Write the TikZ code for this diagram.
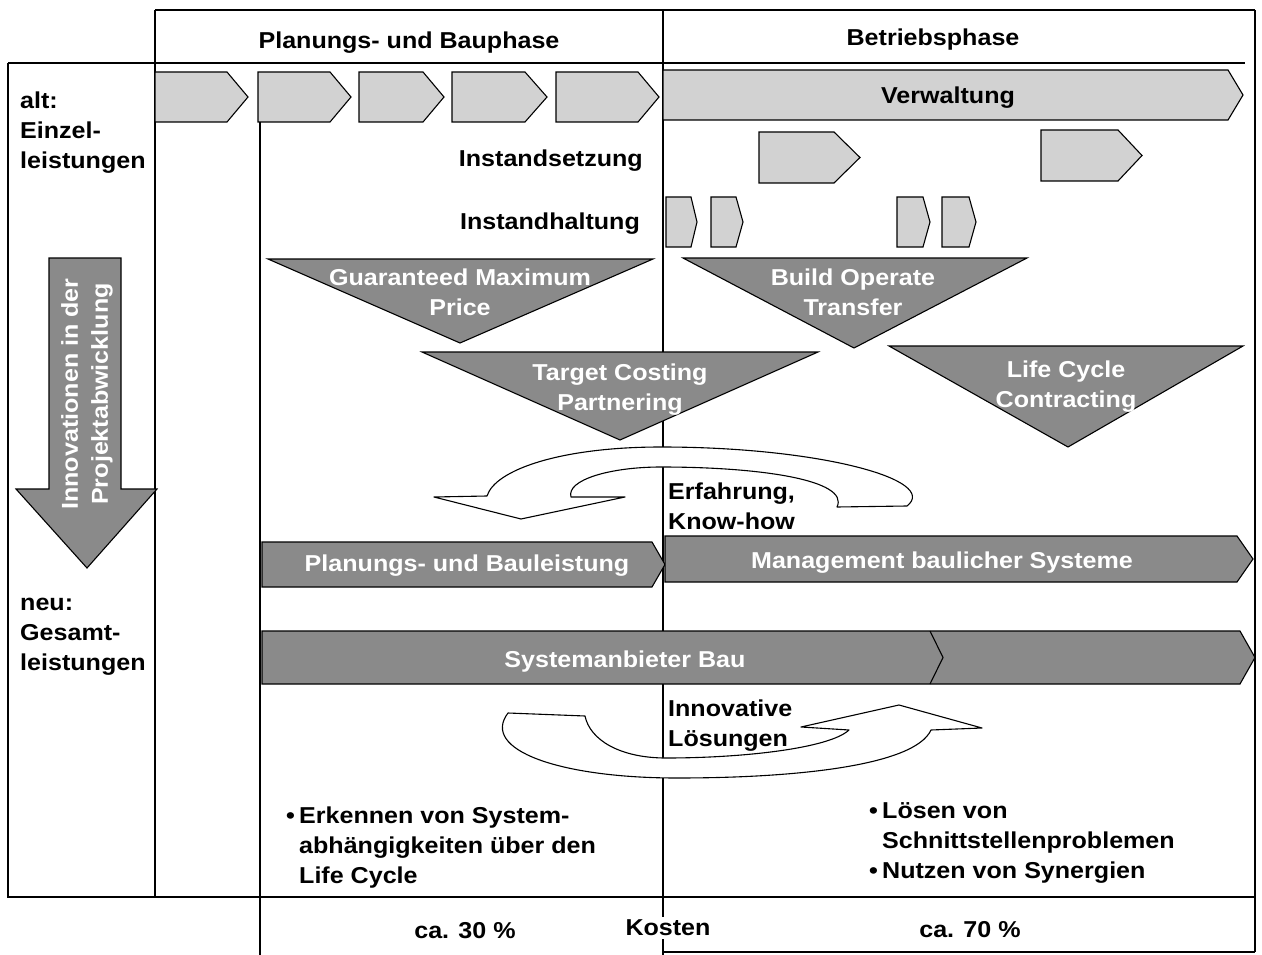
\documentclass[tikz,border=0pt]{standalone}
\usepackage{fontspec}
\setmainfont{Liberation Sans}[FakeStretch=1.09]
\definecolor{chevlight}{HTML}{D2D2D2}
\definecolor{shapedark}{HTML}{8A8A8A}
\newcommand\lblfont{\bfseries\fontsize{23}{30}\selectfont}
% chevron outline: style, left x, body end x, tip x, top y, bottom y
\newcommand\chevpath[6]{\draw[#1] (#2,#5) -- (#3,#5) -- (#4,{(#5+#6)/2}) -- (#3,#6) -- (#2,#6) -- cycle;}
\tikzset{
  frame/.style={line width=1.4pt},
  light/.style={fill=chevlight, draw=black, line width=1.1pt},
  dark/.style={fill=shapedark, draw=black, line width=1.1pt},
  loop/.style={fill=white, draw=black, line width=1.1pt, line join=round},
  lbl/.style={font=\lblfont, inner sep=0pt, yshift=-3pt},
  wlbl/.style={lbl, text=white, align=center},
}
\begin{document}
\begin{tikzpicture}[x=1pt,y=-1pt]
\useasboundingbox (0,0) rectangle (1262,955);

% frame and column lines
\draw[frame] (155,10) -- (1255,10);
\draw[frame] (1255,10) -- (1255,952);
\draw[frame] (8,63) -- (1245,63);
\draw[frame] (8,63) -- (8,897) -- (1255,897);
\draw[frame] (155,10) -- (155,897);
\draw[frame] (260,122) -- (260,955);
\draw[frame] (663,10) -- (663,955);
\draw[frame] (663,952) -- (1255,952);

% phase headers
\node[lbl] (plan) at (409,40) {Planungs- und Bauphase};
\node[lbl] (betr) at (933,37) {Betriebsphase};

% single services, first row
\chevpath{light}{155}{227}{248}{72}{122}
\chevpath{light}{258}{330}{351}{72}{122}
\chevpath{light}{359}{423}{444}{72}{122}
\chevpath{light}{452}{525}{547}{72}{122}
\chevpath{light}{556}{638}{659}{72}{122}
\chevpath{light}{663}{1228}{1243}{70}{120}
\node[lbl] (verw) at (948,95) {Verwaltung};

% repair and maintenance
\node[lbl, anchor=east] (setz) at (643,158) {Instandsetzung};
\chevpath{light}{759}{834}{860}{132}{183}
\chevpath{light}{1041}{1118}{1142}{130}{181}
\node[lbl, anchor=east] (halt) at (640,221) {Instandhaltung};
\chevpath{light}{666}{691}{697}{197}{247}
\chevpath{light}{711}{736}{743}{197}{247}
\chevpath{light}{897}{923}{930}{197}{247}
\chevpath{light}{942}{969}{976}{197}{247}

% contract models
\draw[dark] (268,259) -- (653,259) -- (460,343) -- cycle;
\node[wlbl] (gmp) at (460,289) {Guaranteed Maximum\\Price};
\draw[dark] (683,258) -- (1027,258) -- (854,348) -- cycle;
\node[wlbl] (bot) at (853,289) {Build Operate\\Transfer};
\draw[dark] (422,352) -- (818,352) -- (620,440) -- cycle;
\node[wlbl] (tcp) at (620,387) {Target Costing\\Partnering};
\draw[dark] (889,346) -- (1243,346) -- (1068,447) -- cycle;
\node[wlbl] (lcc) at (1066,384) {Life Cycle\\Contracting};

% innovation arrow in the left column
\draw[dark] (49,258) -- (121,258) -- (121,489) -- (157,489) -- (87,568) -- (16,489) -- (49,489) -- cycle;
\node[wlbl, yshift=3pt, rotate=90] (innov) at (87,394) {Innovationen in der\\Projektabwicklung};

\node[lbl, align=left, anchor=west] (alt) at (20,130) {alt:\\Einzel-\\leistungen};
\node[lbl, align=left, anchor=west] (neu) at (20,634) {neu:\\Gesamt-\\leistungen};

% experience loop
\draw[loop] (907,506) .. controls (940,480) and (820,447) .. (661,447)
  .. controls (560,447) and (495,470) .. (487,496)
  -- (434,497) -- (521,519) -- (625,497) -- (571,497)
  .. controls (566,480) and (610,467) .. (661,467)
  .. controls (760,467) and (850,480) .. (837,507) -- cycle;
\node[lbl, align=left, anchor=west] (erf) at (668,503) {Erfahrung,\\Know-how};

% complete services
\chevpath{dark}{262}{652}{665}{542}{587}
\node[lbl, text=white] (pbl) at (467,563) {Planungs- und Bauleistung};
\chevpath{dark}{665}{1237}{1253}{536}{582}
\node[lbl, text=white] (mbs) at (942,560) {Management baulicher Systeme};
\chevpath{dark}{262}{1240}{1255}{631}{684}
\draw[line width=1.1pt] (930,631) -- (943,657.5) -- (930,684);
\node[lbl, text=white] (sys) at (625,659) {Systemanbieter Bau};

% innovation loop
\draw[loop] (508,713) -- (585,716)
  .. controls (590,740) and (620,758) .. (666,758)
  .. controls (745,758) and (830,748) .. (849,730)
  -- (801,727) -- (899,705) -- (982,728) -- (931,730)
  .. controls (915,765) and (800,778) .. (677,778)
  .. controls (560,778) and (480,750) .. (508,713) -- cycle;
\node[lbl, align=left, anchor=west] (inno) at (668,723) {Innovative\\Lösungen};

% benefits
\node[lbl, align=left, anchor=west] (ben1) at (286,845)
  {\makebox[13pt][l]{\textbullet}Erkennen von System-\\\hspace*{13pt}abhängigkeiten über den\\\hspace*{13pt}Life Cycle};
\node[lbl, align=left, anchor=west] (ben2) at (869,840)
  {\makebox[13pt][l]{\textbullet}Lösen von\\\hspace*{13pt}Schnittstellenproblemen\\\makebox[13pt][l]{\textbullet}Nutzen von Synergien};

% cost shares
\node[lbl] (c30) at (465,928) {ca. 30 \%};
\node[lbl, fill=white, inner xsep=2pt, inner ysep=3pt] (kost) at (668,925) {Kosten};
\node[lbl] (c70) at (970,927) {ca. 70 \%};
\end{tikzpicture}
\end{document}
